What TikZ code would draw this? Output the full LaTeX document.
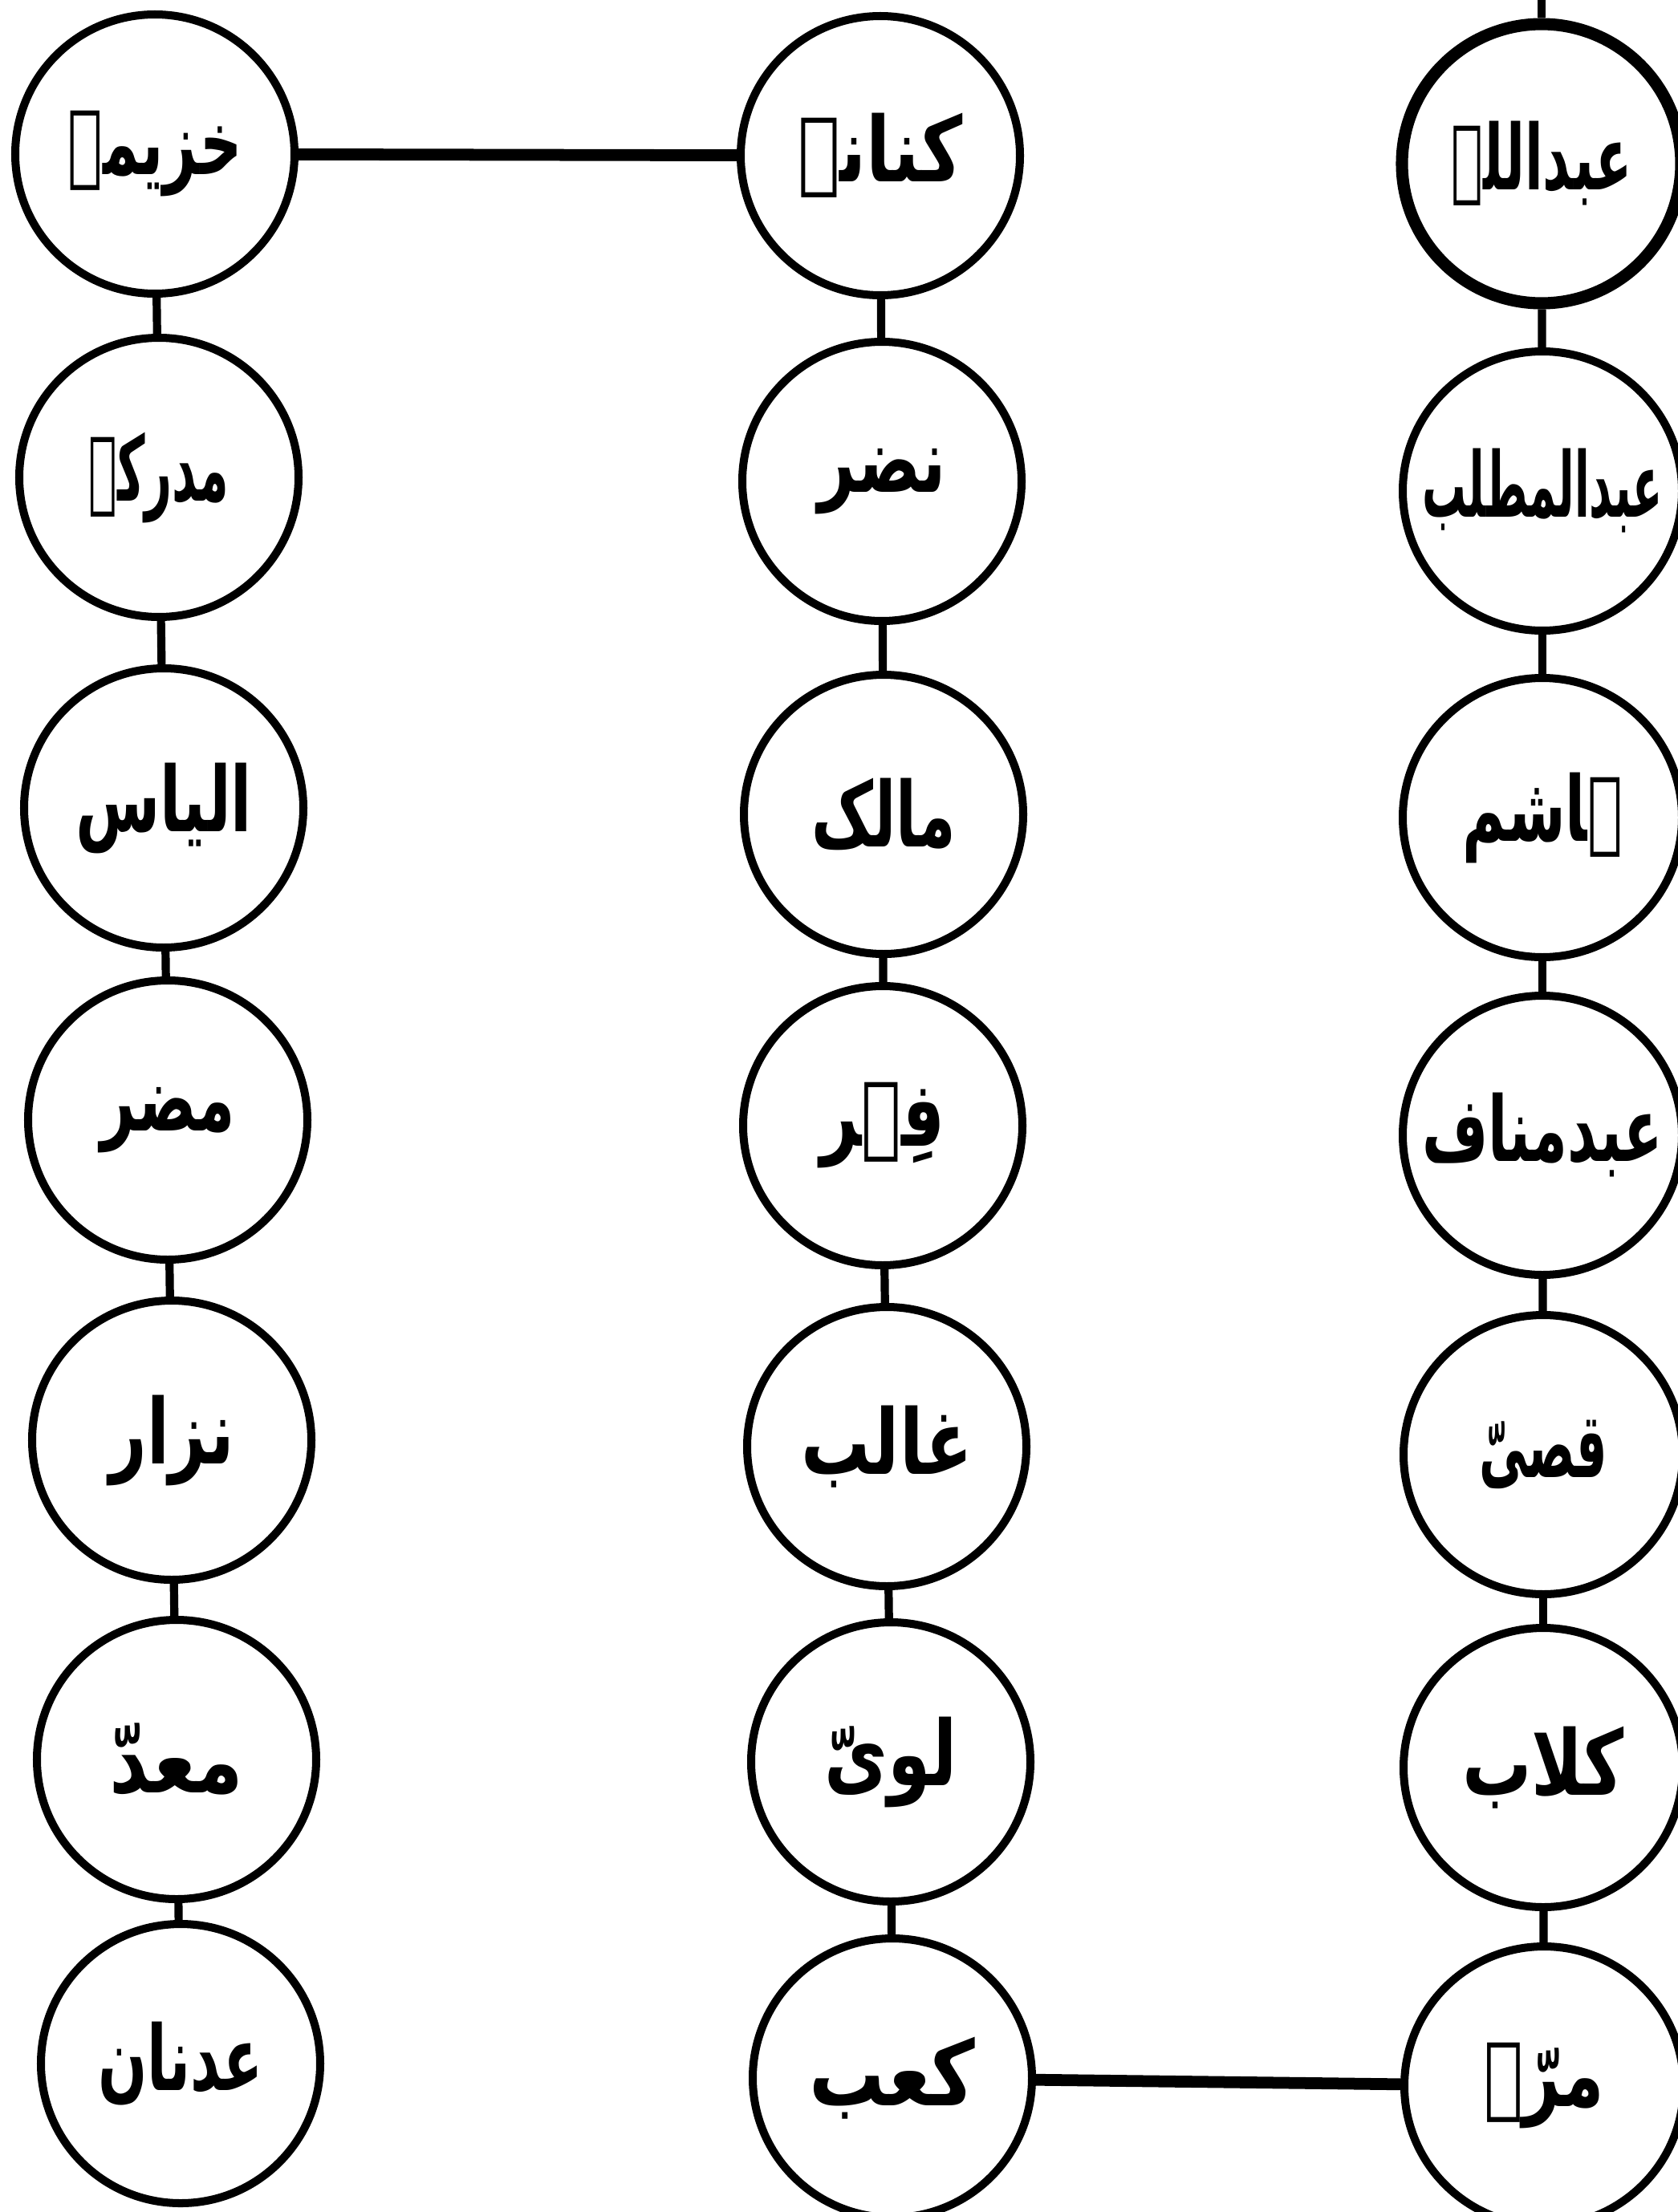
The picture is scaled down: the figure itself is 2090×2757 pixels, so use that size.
\documentclass[tikz,border=0pt]{standalone}
\usepackage{fontspec}
\usepackage{graphicx}
\newfontfamily\urdu[Script=Arabic]{DejaVu Sans}
\TeXXeTstate=1
\newcommand\nm[2]{\resizebox{#1mm}{\height}{\beginR #2\endR}}
\tikzset{
  person/.style={circle, draw, line width=2.85pt, minimum size=34.8mm, inner sep=0pt,
    font=\urdu\bfseries\fontsize{32}{38}\selectfont},
  chief/.style={person, line width=4.3pt},
  vlink/.style={line width=2.9pt},
  hlink/.style={line width=4.2pt},
}
\begin{document}
\begin{tikzpicture}[x=0.1mm,y=-0.1mm]
\useasboundingbox[fill=white] (0,0) rectangle (2090,2757);
% left column
\node[person] (l1) at (193,192)  {\nm{21.7}{خزیمہ}};
\node[person] (l2) at (198,595)  {\nm{17.5}{مدرکہ}};
\node[person] (l3) at (204,1007) {\nm{22}{الیاس}};
\node[person] (l4) at (209,1396) {\nm{16.7}{مضر}};
\node[person] (l5) at (214,1795) {\nm{15.5}{نزار}};
\node[person] (l6) at (220,2193) {\nm{16.7}{معدّ}};
\node[person] (l7) at (225,2572) {\nm{20.6}{عدنان}};
% middle column
\node[person] (m1) at (1097,194)  {\nm{20.6}{کنانہ}};
\node[person] (m2) at (1099,600)  {\nm{16}{نضر}};
\node[person] (m3) at (1101,1015) {\nm{18}{مالک}};
\node[person] (m4) at (1100,1403) {\nm{15.5}{فِہر}};
\node[person] (m5) at (1105,1803) {\nm{21.4}{غالب}};
\node[person] (m6) at (1110,2196) {\nm{16.5}{لویّ}};
\node[person] (m7) at (1112,2590) {\nm{20.7}{کعب}};
% right column
\node[chief]  (r1) at (1921,204)  {\nm{22.5}{عبداللہ}};
\node[person] (r2) at (1922,612)  {\nm{30}{عبدالمطلب}};
\node[person] (r3) at (1922,1019) {\nm{20}{ہاشم}};
\node[person] (r4) at (1922,1415) {\nm{30}{عبدمناف}};
\node[person] (r5) at (1923,1813) {\nm{16}{قصیّ}};
\node[person] (r6) at (1923,2203) {\nm{20.2}{کلاب}};
\node[person] (r7) at (1924,2600) {\nm{15}{مرّہ}};
\coordinate (top) at (1921,0);
% vertical links
\draw[vlink] (top) -- (r1);
\foreach \c in {l,m,r}{
  \foreach \i [evaluate=\i as \j using int(\i+1)] in {1,...,6}{
    \draw[vlink] (\c\i) -- (\c\j);
  }
}
% horizontal links
\draw[hlink] (l1) -- (m1);
\draw[hlink] (m7) -- (r7);
\end{tikzpicture}
\end{document}
